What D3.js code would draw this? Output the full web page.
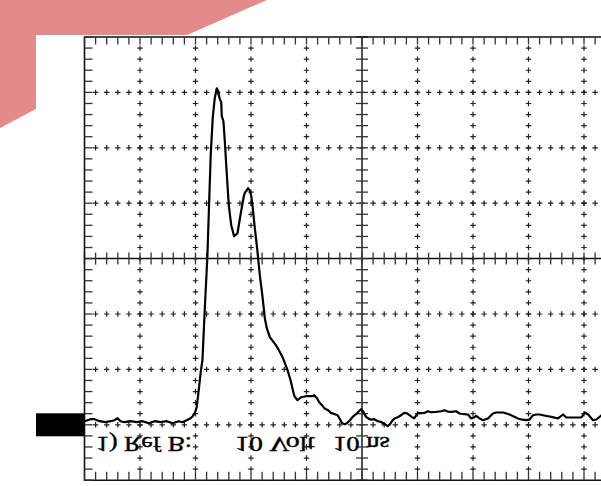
<!DOCTYPE html>
<html>
<head>
<meta charset="utf-8">
<script src="https://cdn.jsdelivr.net/npm/d3@7"></script>
<style>
  body { margin: 0; background: #fff; }
</style>
</head>
<body>
<div class="canvas"></div>
<script>
// scope trace, 10 ns/div horizontally, 10 V/div vertically
const timeNs = [0,1.08,1.81,2.71,3.79,4.69,5.42,5.96,6.5,7.22,8.3,9.39,10.47,11.55,12.64,13.72,14.8,15.88,16.97,17.69,
  18.41,19.13,19.49,19.86,20.22,20.58,20.94,21.25,21.66,22.15,22.47,22.74,23.1,23.47,23.83,24.1,24.28,24.46,24.64,24.73,
  25.03,25.27,25.54,25.99,26.44,26.95,27.56,28.16,28.7,28.93,29.15,29.48,29.78,30.05,30.32,30.69,31.14,31.59,32.08,32.49,
  32.85,33.39,33.94,34.48,35.02,35.69,36.1,36.59,36.91,37.18,37.55,37.82,38.39,38.99,39.89,41.1,41.39,41.88,42.29,42.78,
  43.2,43.86,44.4,45.13,45.61,46.03,46.41,46.93,47.29,47.83,48.32,48.92,49.46,49.82,50.18,50.72,51.08,51.62,52.17,52.89,
  53.43,54.15,54.64,55.05,55.54,55.96,56.44,57.04,57.64,58.12,58.54,59.03,59.44,60.05,60.65,61.25,61.86,62.45,63.36,64.26,
  64.86,65.52,66.06,66.97,67.56,68.41,69.08,69.68,70.22,70.58,71.12,71.79,72.69,73.1,73.59,74.19,75.45,76.59,77.26,78.1,
  78.88,79.6,80.14,80.81,81.41,82,83.03,84.12,85.32,86.23,86.82,88.09,89.53,90.13,90.74,91.64,92.24,93.14,93.68];
const volts = [0.65,1.01,1.01,0.65,0.47,0.65,0.83,1.19,0.65,0.47,0.65,0.47,0.65,0.29,0.65,0.47,0.65,0.29,0.65,0.47,
  0.83,1.19,1.55,2.09,3.18,6.25,9.5,11.66,20.69,30.61,40.54,48.66,55.34,58.95,60.75,60.21,59.13,58.59,58.23,55.7,
  54.8,51.37,46.86,39.64,36.03,34.04,34.58,38.19,41.26,41.98,42.17,42.71,42.35,41.26,39.1,35.49,31.52,27.0,23.03,19.24,
  17.44,15.81,15.09,14.37,13.47,12.2,11.12,9.86,8.77,7.87,6.25,5.16,4.44,4.98,5.16,5.16,5.34,4.8,4.08,3.54,
  3.0,2.64,2.15,1.91,1.73,1.01,0.29,0.11,0.29,0.83,1.43,1.91,2.45,2.82,2.45,1.43,1.19,0.92,1.01,0.65,
  0.52,0.11,-0.25,0.11,0.83,1.19,1.37,1.73,2.15,2.09,1.73,1.37,1.19,2.09,2.09,2.15,2.45,2.27,2.33,2.45,
  2.64,2.36,2.33,2.45,2.04,1.91,1.86,1.14,1.37,1.61,1.19,0.83,1.14,1.55,2.04,2.22,2.22,1.86,1.55,1.14,
  0.92,0.83,0.92,1.73,1.86,1.86,1.64,1.43,1.14,1.86,1.32,1.32,1.32,2.22,1.86,0.83,0.96,1.73,2.09];

const timeMinor = d3.range(0, 101, 2);
const timeMajor = d3.range(10, 100, 10);
const voltMinor = d3.range(-10, 71, 2);
const voltMajor = d3.range(0, 70, 10);
const timeCenter = 50;
const voltCenter = 30;
const labels = ["1) Ref B:", "10 Volt", "10 ns"];

const width = 601, height = 486;

const svg = d3.select('.canvas')
  .append('svg')
    .attr('width', width)
    .attr('height', height);

const x = d3.scaleLinear().domain([0, 100]).range([84.5, 639.5]);
const y = d3.scaleLinear().domain([-10, 70]).range([480.2, 37]);

// pink corner decoration
svg.append('polygon')
  .attr('points', '0,0 267,0 187,35 36,35 36,109 0,128')
  .attr('fill', '#e38b8b');

const grid = svg.append('g');
const crossColor = '#222';
const arm = 2.7;

// dotted major lines, drawn as small crosses
const crossPts = [];
timeMajor.filter(t => t !== timeCenter).forEach(t => {
  voltMinor.filter(v => v > -10 && v < 70).forEach(v => crossPts.push([x(t), y(v)]));
});
voltMajor.filter(v => v !== voltCenter).forEach(v => {
  timeMinor.filter(t => t > 0 && t < 100).forEach(t => crossPts.push([x(t), y(v)]));
});
grid.selectAll('path.cross')
  .data(crossPts)
  .enter().append('path')
    .attr('class', 'cross')
    .attr('d', d => `M${d[0]-arm},${d[1]}H${d[0]+arm}M${d[0]},${d[1]-arm}V${d[1]+arm}`)
    .attr('stroke', crossColor)
    .attr('stroke-width', 1.2)
    .attr('fill', 'none');

// centre axes with ticks
grid.append('line')
  .attr('x1', x(0)).attr('x2', x(100))
  .attr('y1', y(voltCenter)).attr('y2', y(voltCenter))
  .attr('stroke', '#111').attr('stroke-width', 1.5);
grid.append('line')
  .attr('x1', x(timeCenter)).attr('x2', x(timeCenter))
  .attr('y1', y(70)).attr('y2', y(-10))
  .attr('stroke', '#555').attr('stroke-width', 2);
grid.selectAll('line.ctx')
  .data(timeMinor)
  .enter().append('line')
    .attr('class', 'ctx')
    .attr('x1', d => x(d)).attr('x2', d => x(d))
    .attr('y1', y(voltCenter) - 6).attr('y2', y(voltCenter) + 6)
    .attr('stroke', '#333').attr('stroke-width', 1.3);
grid.selectAll('line.cty')
  .data(voltMinor)
  .enter().append('line')
    .attr('class', 'cty')
    .attr('x1', x(timeCenter) - 6).attr('x2', x(timeCenter) + 6)
    .attr('y1', d => y(d)).attr('y2', d => y(d))
    .attr('stroke', '#333').attr('stroke-width', 1.3);

// border with inward ticks
grid.append('path')
  .attr('d', `M${x(100)},${y(70)}H${x(0)}V${y(-10)}H${x(100)}`)
  .attr('fill', 'none')
  .attr('stroke', '#111')
  .attr('stroke-width', 1.6);
grid.selectAll('line.btop')
  .data(timeMinor)
  .enter().append('line')
    .attr('class', 'btop')
    .attr('x1', d => x(d)).attr('x2', d => x(d))
    .attr('y1', y(70)).attr('y2', y(70) + 7.5)
    .attr('stroke', '#333').attr('stroke-width', 1.3);
grid.selectAll('line.bbot')
  .data(timeMinor)
  .enter().append('line')
    .attr('class', 'bbot')
    .attr('x1', d => x(d)).attr('x2', d => x(d))
    .attr('y1', y(-10)).attr('y2', y(-10) - 8.5)
    .attr('stroke', '#333').attr('stroke-width', 1.3);
grid.selectAll('line.bleft')
  .data(voltMinor)
  .enter().append('line')
    .attr('class', 'bleft')
    .attr('x1', x(0)).attr('x2', x(0) + 8)
    .attr('y1', d => y(d)).attr('y2', d => y(d))
    .attr('stroke', '#333').attr('stroke-width', 1.3);

// ground reference marker
svg.append('rect')
  .attr('x', 36)
  .attr('y', y(0) - 11.5)
  .attr('width', x(0) - 36)
  .attr('height', 23)
  .attr('fill', '#000');

// the trace
const line = d3.line()
  .x((d, i) => x(timeNs[i]))
  .y(d => y(d));
svg.append('path')
  .datum(volts)
  .attr('d', line)
  .attr('fill', 'none')
  .attr('stroke', '#000')
  .attr('stroke-width', 2.2)
  .attr('stroke-linejoin', 'round');

// mirrored readout text
const labelPos = [[96, 96], [235, 80], [333, 57]];
svg.selectAll('text.readout')
  .data(labels)
  .enter().append('text')
    .attr('class', 'readout')
    .attr('transform', (d, i) => `translate(${labelPos[i][0]},436.5) scale(1,-1)`)
    .attr('textLength', (d, i) => labelPos[i][1])
    .attr('lengthAdjust', 'spacingAndGlyphs')
    .attr('font-family', '"Liberation Serif", "DejaVu Serif", serif')
    .attr('font-size', 21)
    .attr('fill', '#000')
    .attr('stroke', '#000')
    .attr('stroke-width', 0.4)
    .text(d => d);
</script>
</body>
</html>
